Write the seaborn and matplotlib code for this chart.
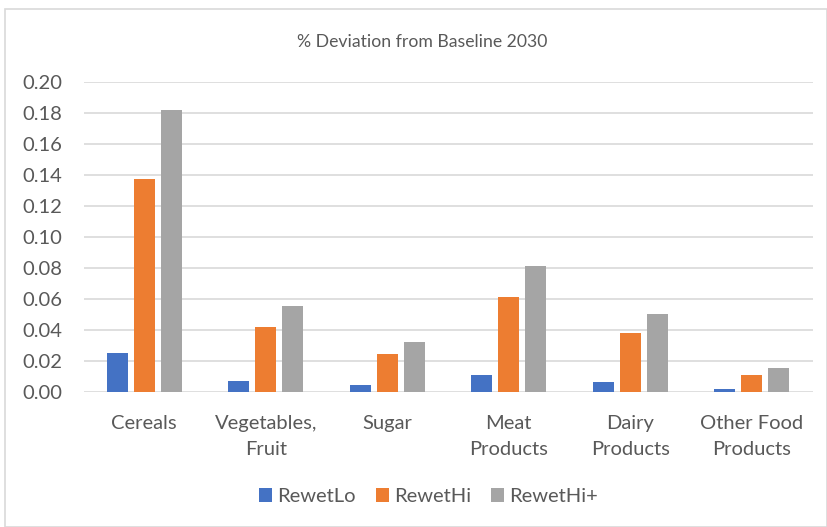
import matplotlib
matplotlib.use("Agg")
import matplotlib.pyplot as plt
import seaborn as sns
import pandas as pd

categories = ["Cereals", "Vegetables,\nFruit", "Sugar", "Meat\nProducts", "Dairy\nProducts", "Other Food\nProducts"]
series = ["RewetLo", "RewetHi", "RewetHi+"]
rewet_lo = [0.0253, 0.0073, 0.0045, 0.0113, 0.0066, 0.0019]
rewet_hi = [0.1376, 0.0420, 0.0246, 0.0615, 0.0381, 0.0113]
rewet_hi_plus = [0.1815, 0.0553, 0.0323, 0.0812, 0.0506, 0.0154]
y_ticks = [0.00, 0.02, 0.04, 0.06, 0.08, 0.10, 0.12, 0.14, 0.16, 0.18, 0.20]
colors = ["#4472C4", "#ED7D31", "#A5A5A5"]

rows = []
for name, vals in zip(series, [rewet_lo, rewet_hi, rewet_hi_plus]):
    for cat, v in zip(categories, vals):
        rows.append({"Category": cat, "Series": name, "Value": v})
df = pd.DataFrame(rows)

sns.set_theme(style="white")
plt.rcParams["font.family"] = ["Lato", "DejaVu Sans"]
text_color = "#595959"

fig = plt.figure(figsize=(8.27, 5.27), dpi=100)
ax = fig.add_axes([0.101, 0.2556, 0.8815, 0.5896])

sns.barplot(data=df, x="Category", y="Value", hue="Series", order=categories,
            hue_order=series, palette=colors, width=0.67, saturation=1,
            edgecolor="none", ax=ax)

# narrow the bars so each one sits with a small gap to its neighbour
for p in ax.patches:
    w = p.get_width()
    if w > 0:
        nw = w * 0.77
        p.set_x(p.get_x() + (w - nw) / 2)
        p.set_width(nw)

ax.set_ylim(0, 0.20)
ax.set_xlim(-0.5, len(categories) - 0.5)
ax.set_yticks(y_ticks)
ax.set_yticklabels([f"{t:.2f}" for t in y_ticks])
ax.yaxis.grid(True, color="#D9D9D9", linewidth=1.2)
ax.set_axisbelow(True)
for s in ax.spines.values():
    s.set_visible(False)
ax.tick_params(axis="both", length=0, labelsize=14.5, colors=text_color)
ax.tick_params(axis="y", pad=15)
ax.tick_params(axis="x", pad=16)
for lbl in ax.get_xticklabels():
    lbl.set_linespacing(1.65)
ax.set_xlabel("")
ax.set_ylabel("")

fig.text(0.511, 0.92, "% Deviation from Baseline 2030", ha="center", va="center",
         fontsize=12.7, color=text_color)

handles, labels = ax.get_legend_handles_labels()
ax.legend_.remove()
fig.legend(handles, labels, loc="center", bbox_to_anchor=(0.518, 0.058), ncol=3,
           frameon=False, fontsize=14.5, labelcolor=text_color, handlelength=0.65,
           handleheight=0.65, handletextpad=0.25, columnspacing=1.0)

# chart border
fig.add_artist(plt.Rectangle((0.006, 0.0), 0.994, 0.983, transform=fig.transFigure,
                             fill=False, edgecolor="#D9D9D9", linewidth=1.2))

fig.savefig("out.png", dpi=100)
